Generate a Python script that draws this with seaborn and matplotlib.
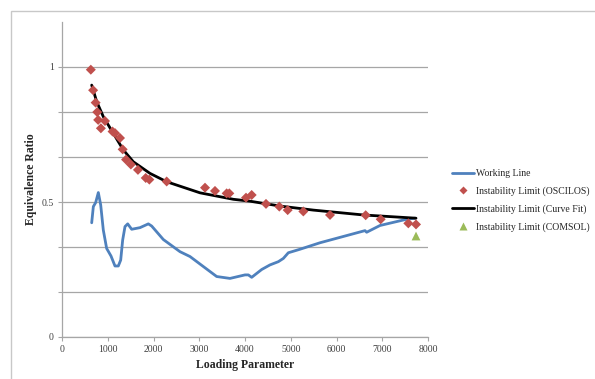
import numpy as np
import pandas as pd
import matplotlib
matplotlib.use("Agg")
import matplotlib.pyplot as plt
from matplotlib.lines import Line2D
from matplotlib.patches import Rectangle
import seaborn as sns

# ---- data ----
work_x = [649, 685, 736, 794, 846, 903, 976, 1071, 1158, 1231, 1283, 1326, 1377, 1436,
          1523, 1705, 1887, 1960, 2215, 2579, 2798, 3089, 3381, 3672, 4000, 4073, 4146,
          4365, 4546, 4729, 4838, 4947, 5202, 5639, 6623, 6659, 6951, 7530, 7716]
work_y = [0.423, 0.483, 0.498, 0.535, 0.489, 0.396, 0.328, 0.300, 0.263, 0.263, 0.285,
          0.359, 0.409, 0.419, 0.399, 0.405, 0.419, 0.411, 0.361, 0.316, 0.298, 0.261,
          0.224, 0.217, 0.230, 0.230, 0.221, 0.250, 0.267, 0.279, 0.291, 0.312, 0.325,
          0.349, 0.394, 0.388, 0.413, 0.436, 0.440]

osc_x = [630, 680, 735, 770, 790, 850, 940, 1105, 1160, 1268, 1326, 1400, 1505, 1660,
         1830, 1909, 2288, 3126, 3344, 3599, 3657, 4022, 4146, 4459, 4750, 4933, 5275,
         5858, 6638, 6966, 7570, 7738]
osc_y = [0.990, 0.914, 0.868, 0.833, 0.804, 0.773, 0.800, 0.761, 0.755, 0.737, 0.695,
         0.657, 0.639, 0.619, 0.589, 0.583, 0.576, 0.553, 0.541, 0.532, 0.532, 0.516,
         0.526, 0.493, 0.483, 0.470, 0.465, 0.452, 0.451, 0.436, 0.421, 0.417]

fit_x = [649, 758, 903, 1122, 1340, 1559, 1923, 2288, 3016, 3745, 4109, 4765, 5493,
         6586, 7738]
fit_y = [0.933, 0.872, 0.816, 0.754, 0.693, 0.649, 0.606, 0.575, 0.534, 0.510, 0.503,
         0.485, 0.470, 0.452, 0.440]

comsol_x = [7738]
comsol_y = [0.374]

y_ticks = [0, 1/6, 2/6, 3/6, 4/6, 5/6, 1]
y_labels = ["0", "", "", "0.5", "", "", "1"]
x_ticks = [0, 1000, 2000, 3000, 4000, 5000, 6000, 7000, 8000]

BLUE = "#4F81BD"
RED = "#C0504D"
GREEN = "#9BBB59"

sns.set_theme(style="white")
plt.rcParams["font.family"] = ["Liberation Serif", "DejaVu Serif"]

fig = plt.figure(figsize=(5.95, 3.79), dpi=100)
ax = fig.add_axes([62/595, 1-337/379, (428-62)/595, (337-22)/379])

# outer chart border
fig.patches.append(Rectangle((11/595, -0.05), 1.0, 1-11/379+0.05, transform=fig.transFigure,
                             fill=False, edgecolor="#C8C8C8", linewidth=1.0))

df_work = pd.DataFrame({"x": work_x, "y": work_y})
df_osc = pd.DataFrame({"x": osc_x, "y": osc_y})
df_fit = pd.DataFrame({"x": fit_x, "y": fit_y})
df_com = pd.DataFrame({"x": comsol_x, "y": comsol_y})

sns.lineplot(data=df_work, x="x", y="y", ax=ax, color=BLUE, linewidth=2.0, sort=False,
             estimator=None, zorder=3)
sns.lineplot(data=df_fit, x="x", y="y", ax=ax, color="black", linewidth=2.0, sort=False,
             estimator=None, zorder=4)
sns.scatterplot(data=df_osc, x="x", y="y", ax=ax, color=RED, marker="D", s=26,
                edgecolor="none", zorder=5)
sns.scatterplot(data=df_com, x="x", y="y", ax=ax, color=GREEN, marker="^", s=40,
                edgecolor="none", zorder=5)

ax.set_xlim(0, 8000)
ax.set_ylim(0, 7/6)
ax.set_xticks(x_ticks)
ax.set_xticklabels([str(v) for v in x_ticks], fontsize=7, color="#404040")
ax.set_yticks(y_ticks)
ax.set_yticklabels(y_labels, fontsize=7, color="#404040")
ax.grid(axis="y", color="#A6A6A6", linewidth=0.9)
ax.grid(axis="x", visible=False)
ax.set_axisbelow(True)
for s in ["top", "right"]:
    ax.spines[s].set_visible(False)
for s in ["left", "bottom"]:
    ax.spines[s].set_color("#A6A6A6")
    ax.spines[s].set_linewidth(0.9)
ax.tick_params(axis="both", which="major", length=3, width=0.8, color="#A6A6A6",
               direction="out", pad=3, left=True, bottom=True)

ax.set_xlabel("Loading Parameter", fontsize=8.5, fontweight="bold")
ax.set_ylabel("Equivalence Ratio", fontsize=8.5, fontweight="bold")
ax.xaxis.set_label_coords(0.5, -(365 - 337) / 315, transform=ax.transAxes)
ax.xaxis.label.set_va("center")
ax.yaxis.set_label_coords(-(62 - 31) / 366, 0.5, transform=ax.transAxes)
ax.yaxis.label.set_va("center")

handles = [
    Line2D([], [], color=BLUE, linewidth=2.0),
    Line2D([], [], color=RED, marker="D", linestyle="none", markersize=4.5,
           markeredgecolor="none"),
    Line2D([], [], color="black", linewidth=2.0),
    Line2D([], [], color=GREEN, marker="^", linestyle="none", markersize=5.5,
           markeredgecolor="none"),
]
labels = ["Working Line", "Instability Limit (OSCILOS)", "Instability Limit (Curve Fit)",
          "Instability Limit (COMSOL)"]
fig.legend(handles, labels, loc="upper left", bbox_to_anchor=(452/595, 1-169/379),
           frameon=False, fontsize=7, handlelength=2.3, handletextpad=0.15,
           labelspacing=0.85, borderpad=0, borderaxespad=0)

fig.savefig("out.png", dpi=100)
